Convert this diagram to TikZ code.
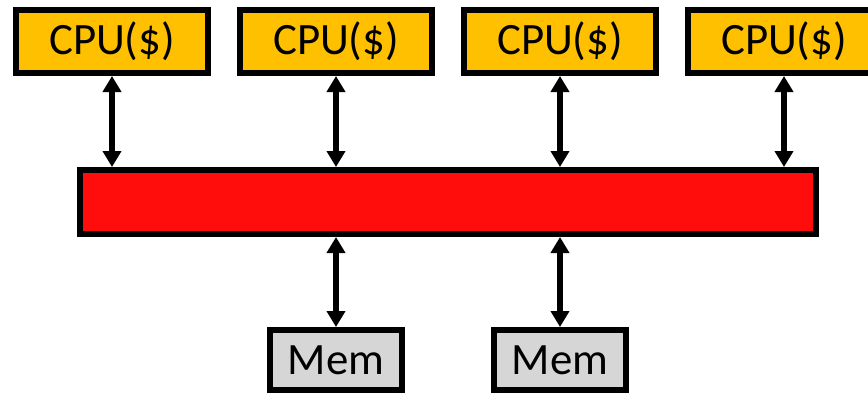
\documentclass[tikz,border=0pt]{standalone}
\usepackage{fontspec}
\setmainfont{Carlito}
\usetikzlibrary{arrows.meta}
\definecolor{cpuorange}{HTML}{FFC000}
\definecolor{busred}{HTML}{FF0D0D}
\definecolor{memgray}{HTML}{D6D6D6}
\tikzset{
  box/.style={draw=black, line width=6bp, inner sep=0pt, font=\fontsize{45}{45}\selectfont},
  cpubox/.style={box, fill=cpuorange, minimum width=192bp, minimum height=63bp},
  membox/.style={box, fill=memgray, minimum width=132bp, minimum height=60bp},
  busbox/.style={box, fill=busred, minimum width=736bp, minimum height=64bp},
  link/.style={line width=6bp, {Triangle[width=18bp,length=16bp]}-{Triangle[width=18bp,length=16bp]}}
}
\begin{document}
\begin{tikzpicture}[x=1bp, y=-1bp]
  \useasboundingbox (0,0) rectangle (868,395);
  \clip (0,0) rectangle (868,395);
  % processors with caches
  \node[cpubox] (cpu1) at (112,41.5) {CPU(\$)};
  \node[cpubox] (cpu2) at (336,41.5) {CPU(\$)};
  \node[cpubox] (cpu3) at (560,41.5) {CPU(\$)};
  \node[cpubox] (cpu4) at (784,41.5) {CPU(\$)};
  % shared interconnect
  \node[busbox] (bus) at (448,202) {};
  % memory modules
  \node[membox] (mem1) at (336,360) {Mem};
  \node[membox] (mem2) at (560,360) {Mem};
  % bidirectional links
  \foreach \c in {cpu1,cpu2,cpu3,cpu4}
    \draw[link] (\c.south) -- (\c.south |- bus.north);
  \foreach \m in {mem1,mem2}
    \draw[link] (\m.north) -- (\m.north |- bus.south);
\end{tikzpicture}
\end{document}
